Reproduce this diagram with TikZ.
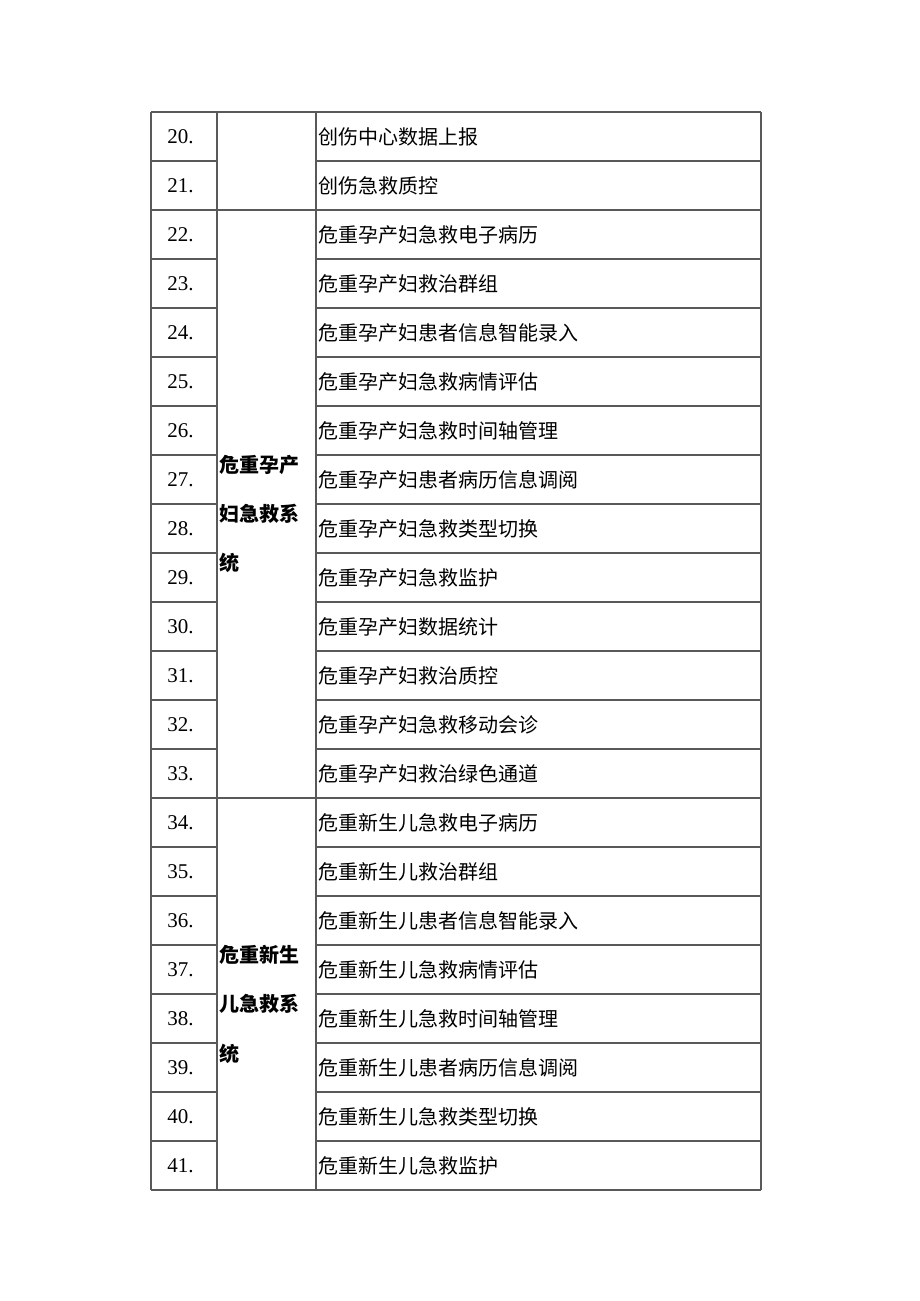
\documentclass[tikz,border=0pt]{standalone}
\usepackage{fontspec}
\setmainfont{Liberation Serif}
\newfontfamily\cjk{Noto Sans CJK SC}
\begin{document}
\begin{tikzpicture}[x=1pt,y=-1pt,
  gridline/.style={draw=black!65, line width=1.1pt},
  num/.style={font=\fontsize{21}{21}\selectfont, inner sep=0pt},
  item/.style={font=\cjk\fontsize{20}{20}\selectfont, anchor=west, inner sep=0pt},
  grp/.style={font=\cjk\bfseries\fontsize{20}{20}\selectfont, anchor=west, inner sep=0pt}]
\useasboundingbox (0,0) rectangle (920,1301);
% horizontal lines
\foreach \i in {0,...,22}{
  \draw[gridline] (151,{112+49*\i}) -- (217,{112+49*\i});
  \draw[gridline] (316,{112+49*\i}) -- (761,{112+49*\i});
}
\foreach \y in {112,210,798,1190}
  \draw[gridline] (217,\y) -- (316,\y);
% vertical lines
\foreach \x in {151,217,316,761}
  \draw[gridline] (\x,112) -- (\x,1190);
% numbers and items
\foreach \t [count=\i from 0] in {创伤中心数据上报,创伤急救质控,危重孕产妇急救电子病历,危重孕产妇救治群组,危重孕产妇患者信息智能录入,危重孕产妇急救病情评估,危重孕产妇急救时间轴管理,危重孕产妇患者病历信息调阅,危重孕产妇急救类型切换,危重孕产妇急救监护,危重孕产妇数据统计,危重孕产妇救治质控,危重孕产妇急救移动会诊,危重孕产妇救治绿色通道,危重新生儿急救电子病历,危重新生儿救治群组,危重新生儿患者信息智能录入,危重新生儿急救病情评估,危重新生儿急救时间轴管理,危重新生儿患者病历信息调阅,危重新生儿急救类型切换,危重新生儿急救监护}{
  \pgfmathtruncatemacro{\n}{20+\i}
  \node[num] (n\i) at (180.5,{137+49*\i}) {\n.};
  \node[item] (t\i) at (318,{137+49*\i}) {\t};
}
% group labels
\node[grp] (g1a) at (219,465) {危重孕产};
\node[grp] (g1b) at (219,513.5) {妇急救系};
\node[grp] (g1c) at (219,562.5) {统};
\node[grp] (g2a) at (219,955) {危重新生};
\node[grp] (g2b) at (219,1004) {儿急救系};
\node[grp] (g2c) at (219,1053.5) {统};
\end{tikzpicture}
\end{document}
